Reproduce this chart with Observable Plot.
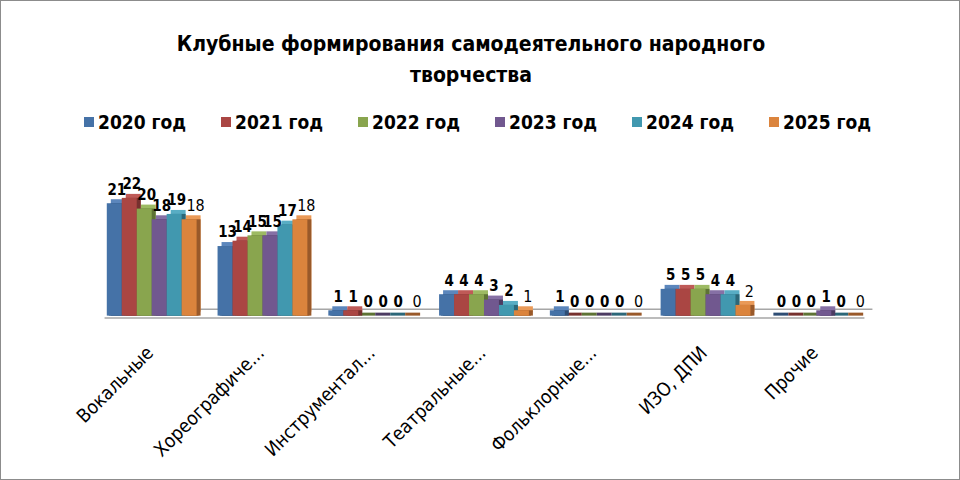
<!DOCTYPE html>
<html><head><meta charset="utf-8">
<script src="https://cdn.jsdelivr.net/npm/d3@7"></script>
<script src="https://cdn.jsdelivr.net/npm/@observablehq/plot@0.6"></script>
<style>
body{margin:0;background:#fff;}
#frame{position:relative;width:958px;height:478px;border:1px solid #8c8c8c;overflow:hidden;background:#fff;
 font-family:"Liberation Sans Narrow","DejaVu Sans Condensed","Open Sans",Arial,sans-serif;}
#title{position:absolute;top:28px;left:0;width:940px;text-align:center;font-weight:bold;font-size:21px;line-height:31px;color:#000;}
#legend{position:absolute;top:110px;left:83px;display:flex;}
.item{width:137px;display:flex;align-items:center;font-weight:bold;font-size:19px;color:#000;white-space:nowrap;}
.sw{width:10px;height:10px;margin-right:4px;display:inline-block;}
#chart{position:absolute;top:139px;left:0;}
</style></head>
<body>
<div id="frame">
  <div id="title">Клубные формирования самодеятельного народного<br>творчества</div>
  <div id="legend"></div>
  <div id="chart"></div>
</div>
<script>
const categories = ["Вокальные","Хореографиче...","Инструментал...","Театральные...","Фольклорные...","ИЗО, ДПИ","Прочие"];
const years = ["2020 год","2021 год","2022 год","2023 год","2024 год","2025 год"];
const colors = ["#4572A7","#AA4643","#89A54E","#71588F","#4198AF","#DB843D"];
const darkColors = ["#2E4D74","#76302E","#5E7335","#4C3B62","#2C6778","#99592A"];
const topColors = ["#5B86BC","#BF5A57","#9DBA63","#8670A5","#58ADC4","#EA9A58"];
const v2020 = [21,13,1,4,1,5,0];
const v2021 = [22,14,1,4,0,5,0];
const v2022 = [20,15,0,4,0,5,0];
const v2023 = [18,15,0,3,0,4,1];
const v2024 = [19,17,0,2,0,4,0];
const v2025 = [18,18,0,1,0,2,0];
const series = [v2020,v2021,v2022,v2023,v2024,v2025];

const rows = [];
categories.forEach((c,ci)=>years.forEach((y,yi)=>rows.push({cat:c, year:y, yi, value:series[yi][ci]})));

const leg = document.getElementById("legend");
years.forEach((y,i)=>{
  const d=document.createElement("div");d.className="item";
  d.innerHTML=`<span class="sw" style="background:${colors[i]}"></span>${y}`;
  leg.appendChild(d);
});

const D = 4;
const base = {fx:"cat", x:"year", y:"value"};
const byYear = i => rows.filter(r=>r.yi===i);
const marks = [
  Plot.frame({facet:"super", anchor:"bottom", stroke:"#a6a6a6", strokeWidth:1.5, dx:8, dy:-7}),
  Plot.frame({facet:"super", anchor:"bottom", stroke:"#a6a6a6", strokeWidth:1.5, dy:2}),
  ...years.map((y,i)=>Plot.tickY(byYear(i), {fx:"cat", x:"year", y:d=>0, stroke:darkColors[i], strokeWidth:3, dx:2, dy:-2})),
  ...years.map((y,i)=>Plot.barY(byYear(i), {...base, fill:topColors[i], dx:D, dy:-D})),
  ...years.map((y,i)=>Plot.barY(byYear(i), {...base, fill:darkColors[i], dx:D})),
  ...years.map((y,i)=>Plot.barY(byYear(i), {...base, fill:colors[i]})),
  Plot.text(rows.filter(r=>r.yi<5), {...base, text:d=>String(d.value), dy:-14, dx:2, fontWeight:"bold", fontSize:15, fill:"#000"}),
  Plot.text(rows.filter(r=>r.yi===5), {...base, text:d=>String(d.value), dy:-14, dx:6, fontWeight:"normal", fontSize:16, fill:"#000"}),
  Plot.axisFx({anchor:"bottom", tickSize:0, tickRotate:-45, fontSize:19, dy:22, dx:-2, label:null, fill:"#000"})
];

const chart = Plot.plot({
  width:960, height:340,
  marginLeft:92, marginRight:84, marginTop:58, marginBottom:164,
  style:{fontFamily:'"Liberation Sans Narrow","DejaVu Sans Condensed",Arial,sans-serif', background:"transparent", overflow:"visible"},
  fx:{domain:categories, paddingInner:0.15, paddingOuter:0.1, label:null, axis:null},
  x:{domain:years, padding:0, axis:null},
  y:{domain:[0,22], axis:null},
  marks
});
document.getElementById("chart").appendChild(chart);
</script>
</body></html>
